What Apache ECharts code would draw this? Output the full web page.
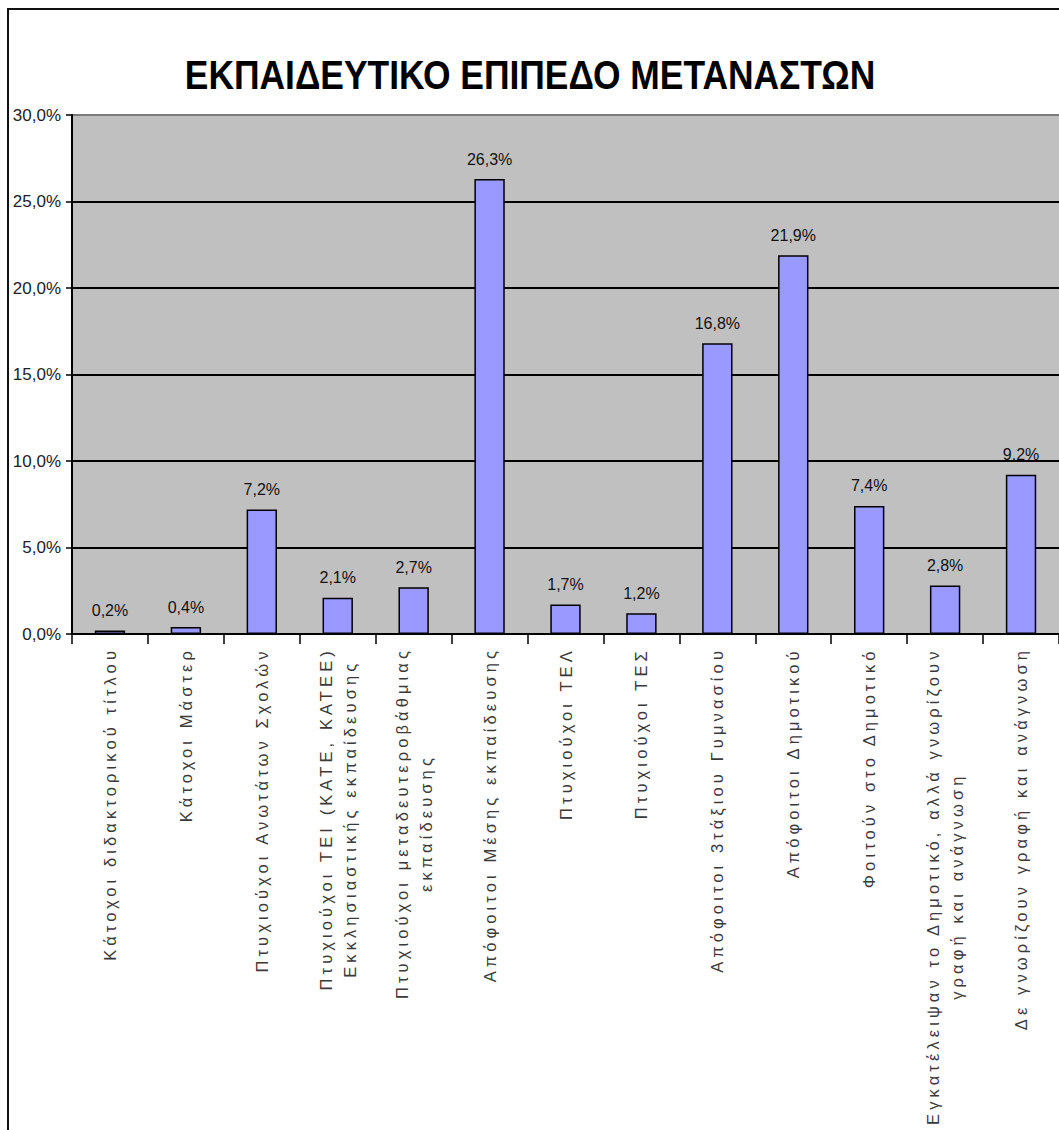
<!DOCTYPE html>
<html>
<head>
<meta charset="utf-8">
<title>ΕΚΠΑΙΔΕΥΤΙΚΟ ΕΠΙΠΕΔΟ ΜΕΤΑΝΑΣΤΩΝ</title>
<script src="https://cdn.jsdelivr.net/npm/echarts@6/dist/echarts.min.js"></script>
<style>
  html, body { margin: 0; padding: 0; background: #fff; }
  #main { width: 1059px; height: 1130px; }
  /* category labels use a spaced-out typeface */
  #main text[style*="16.5px"] { letter-spacing: 4.1px; }
</style>
</head>
<body>
<div id="main"></div>
<script>
// Education level of migrants (% of respondents)
const categories = [
  'Κάτοχοι διδακτορικού τίτλου',
  'Κάτοχοι Μάστερ',
  'Πτυχιούχοι Ανωτάτων Σχολών',
  'Πτυχιούχοι ΤΕΙ (ΚΑΤΕ, ΚΑΤΕΕ)\nΕκκλησιαστικής εκπαίδευσης',
  'Πτυχιούχοι μεταδευτεροβάθμιας\nεκπαίδευσης',
  'Απόφοιτοι Μέσης εκπαίδευσης',
  'Πτυχιούχοι ΤΕΛ',
  'Πτυχιούχοι ΤΕΣ',
  'Απόφοιτοι 3τάξιου Γυμνασίου',
  'Απόφοιτοι Δημοτικού',
  'Φοιτούν στο Δημοτικό',
  'Εγκατέλειψαν το Δημοτικό, αλλά γνωρίζουν\nγραφή και ανάγνωση',
  'Δε γνωρίζουν γραφή και ανάγνωση'
];
const shares = [0.2, 0.4, 7.2, 2.1, 2.7, 26.3, 1.7, 1.2, 16.8, 21.9, 7.4, 2.8, 9.2];
const yTicks = [0, 5, 10, 15, 20, 25, 30];
const chartTitle = 'ΕΚΠΑΙΔΕΥΤΙΚΟ ΕΠΙΠΕΔΟ ΜΕΤΑΝΑΣΤΩΝ';

const LABEL_SPACING = 4.1;
const pct = v => v.toFixed(1).replace('.', ',') + '%';

// keep text measurement in step with the letter spacing of the category labels
const measureCtx = document.createElement('canvas').getContext('2d');
echarts.setPlatformAPI({
  measureText(text, font) {
    measureCtx.font = font;
    let w = measureCtx.measureText(text).width;
    if (font && font.indexOf('16.5px') >= 0) w += LABEL_SPACING * Array.from(text).length;
    return { width: w };
  }
});

const chart = echarts.init(document.getElementById('main'), null, { renderer: 'svg' });

chart.setOption({
  animation: false,
  backgroundColor: '#ffffff',
  graphic: [
    {
      type: 'rect',
      silent: true,
      shape: { x: 8, y: 9, width: 1200, height: 1300 },
      style: { fill: 'none', stroke: '#111', lineWidth: 2 },
      z: 100
    },
    {
      type: 'text',
      x: 530,
      y: 75,
      scaleY: 1.16,
      style: {
        text: chartTitle,
        x: 0, y: 0,
        align: 'center', verticalAlign: 'middle',
        textAlign: 'center', textVerticalAlign: 'middle',
        font: 'bold 35.4px "Liberation Sans", Arial, sans-serif',
        fill: '#000'
      }
    }
  ],
  grid: {
    left: 72, top: 115, width: 998, height: 519,
    show: true, backgroundColor: '#C0C0C0', borderWidth: 0,
    containLabel: false
  },
  xAxis: {
    type: 'category',
    data: categories,
    axisLine: { show: true, lineStyle: { color: '#000', width: 2 } },
    axisTick: { show: true, length: 10, lineStyle: { color: '#000', width: 1.5 } },
    axisLabel: {
      interval: 0,
      rotate: 90,
      margin: 13,
      formatter: v => v.split('\n').map(s => '{c|' + s + '}').join('\n'),
      rich: {
        c: {
          align: 'center',
          fontSize: 16.5,
          lineHeight: 24,
          fontFamily: '"Liberation Sans", Arial, sans-serif',
          color: '#3a3a3a'
        }
      }
    },
    splitLine: { show: false }
  },
  yAxis: {
    type: 'value',
    min: yTicks[0],
    max: yTicks[yTicks.length - 1],
    interval: yTicks[1] - yTicks[0],
    axisLine: { show: true, lineStyle: { color: '#000', width: 2 } },
    axisTick: { show: true, length: 6, lineStyle: { color: '#000', width: 1.5 } },
    axisLabel: {
      margin: 11,
      fontSize: 17,
      fontFamily: '"Liberation Sans", Arial, sans-serif',
      color: '#222',
      formatter: v => pct(v)
    },
    splitLine: {
      show: true,
      lineStyle: { color: ['#000', '#000', '#000', '#000', '#000', '#000', '#7a7a7a'], width: 2 }
    }
  },
  series: [{
    type: 'bar',
    data: shares,
    barWidth: '40%',
    itemStyle: { color: '#9999FF', borderColor: '#000', borderWidth: 1.5 },
    label: {
      show: true,
      position: 'top',
      distance: 12,
      fontSize: 16,
      fontFamily: '"Liberation Sans", Arial, sans-serif',
      color: '#111',
      formatter: p => pct(p.value)
    }
  }]
});
</script>
</body>
</html>
